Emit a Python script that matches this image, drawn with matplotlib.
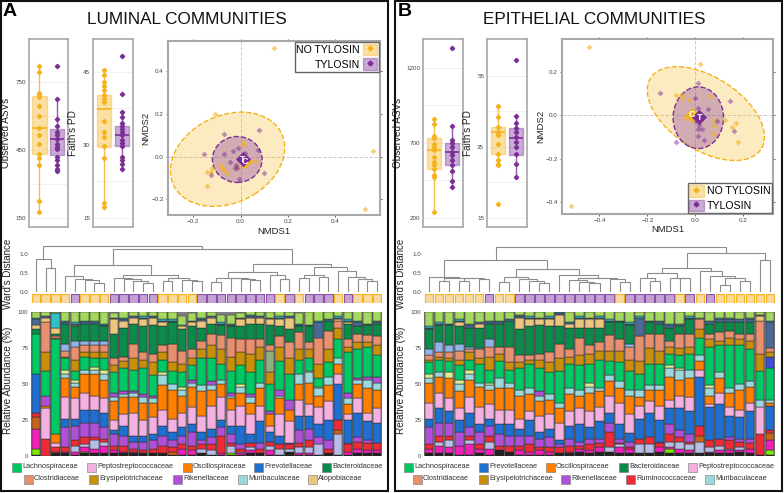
import matplotlib

matplotlib.use("Agg")
import matplotlib.pyplot as plt
import numpy as np
from matplotlib.legend_handler import HandlerTuple
from matplotlib.lines import Line2D
from matplotlib.patches import Ellipse, Patch, Rectangle

W, H = 784, 493
YEL = "#F5B21C"
PUR = "#7B2F96"
GREY = "#A8A8A8"

# alpha diversity, values per group
lum_asv_no = [817, 791, 700, 692, 682, 641, 599, 546, 517, 477, 433, 415, 383, 223, 176]
lum_asv_ty = [817, 672, 584, 556, 528, 513, 496, 477, 462, 452, 418, 403, 381, 367, 355]
lum_pd_no = [45.4, 44.3, 42.9, 42, 41.2, 40.2, 39.3, 38.8, 34.9, 32.6, 31.7, 29.8, 27.3, 18.1, 17.3]
lum_pd_ty = [48.2, 40.4, 36.7, 35.7, 34.5, 33.9, 33.3, 32.6, 32, 31, 30.3, 29.8, 27.5, 26.8, 26.1, 25.1]
epi_asv_no = [858, 829, 744, 731, 696, 673, 651, 607, 573, 551, 529, 484, 473, 240]
epi_asv_ty = [1336, 811, 722, 700, 673, 640, 618, 584, 551, 511, 444, 407]
epi_pd_no = [46.5, 43.5, 40.5, 39.2, 38.3, 35.9, 33.1, 31.2, 30.3, 30, 19]
epi_pd_ty = [59.6, 43.7, 41.8, 40.2, 39.2, 37.8, 36.4, 35, 32.9, 30.3, 26.4]

# box stats: q1, median, q3, whisker low, whisker high
lum_asv_box = [(433, 546, 685, 176, 817), (429, 496, 541, 355, 672)]
lum_pd_box = [(29.6, 37.3, 40.3, 17.3, 45.4), (29.8, 32, 33.9, 25.1, 36.7)]
epi_asv_box = [(529, 656, 731, 240, 858), (553, 640, 700, 407, 811)]
epi_pd_box = [(33, 39.3, 40.5, 30, 46.5), (32.7, 37.6, 40.3, 26.4, 43.7)]

# ordination points
lum_nmds_no = [(.14, .51), (.56, .026), (.525, -.248), (-.107, .2), (.01, .07), (.01, .055),
               (-.142, -.074), (-.125, -.075), (-.142, -.137), (-.12, -.052), (-.086, -.04),
               (-.08, -.055), (-.072, -.063), (-.058, -.078), (.062, -.019), (-.012, -.047)]
lum_nmds_ty = [(.076, .126), (-.069, .107), (-.153, .011), (-.125, -.089), (-.03, .024), (-.01, .042),
               (-.069, .013), (-.044, -.027), (.072, .031), (.1, -.078), (-.008, -.105), (-.02, -.039),
               (-.013, -.055), (-.022, -.052), (.006, -.016), (.02, .016)]
epi_nmds_no = [(-.444, .316), (-.52, -.419), (.018, .238), (-.079, .092), (-.056, .095), (-.056, .08),
               (-.028, .069), (.063, .087), (.08, -.023), (.08, -.05), (.125, -.023), (.153, -.054),
               (.169, -.035), (.178, -.124), (.08, -.084), (-.042, -.012)]
epi_nmds_ty = [(-.146, .101), (.01, .149), (-.003, .08), (.011, .034), (.053, .029), (.143, .064),
               (.09, -.028), (.16, -.074), (-.081, -.124), (.035, -.112), (.011, -.094), (.011, -.063),
               (.028, -.063), (.014, -.043), (-.024, -.008), (.003, -.028)]

# sample groups along the dendrogram
lum_groups = "NNNNTNNNTTTTTNNNNTTTTTTTTNTNTTTNTNNN"
epi_groups = "NNNNNNTNNTTTTTTTTTTNTTTTTNTNTNNNNNN"

# relative abundance, one list per taxon, one value per sample
lum_dark = [1, 0, 2, 2, 1, 2, 2, 2, 2, 2, 2, 2, 2, 2, 1, 1, 1, 2, 1, 1, 1, 1, 2, 2, 1, 1, 3, 1, 1, 1, 2, 1, 1, 2, 2, 2]
lum_lime = [4, 0, 0, 0, 0, 1, 0, 0, 0, 0, 0, 0, 0, 0, 0, 0, 0, 0, 0, 0, 1, 0, 0, 0, 0, 0, 0, 0, 0, 0, 0, 0, 0, 0, 0, 0]
lum_hot = [14, 0, 0, 1, 2, 3, 3, 5, 2, 1, 1, 0, 0, 0, 0, 4, 3, 0, 0, 1, 0, 1, 2, 0, 3, 0, 0, 1, 1, 0, 0, 0, 2, 3, 2, 2]
lum_lav = [0, 0, 0, 0, 4, 2, 6, 3, 0, 0, 0, 0, 0, 0, 0, 0, 0, 3, 3, 0, 5, 1, 2, 0, 3, 4, 2, 4, 4, 7, 0, 14, 0, 0, 0, 0]
lum_brown = [8, 0, 1, 0, 0, 0, 0, 0, 0, 0, 0, 0, 0, 0, 2, 0, 0, 0, 0, 0, 0, 0, 0, 0, 0, 0, 0, 0, 0, 0, 0, 3, 0, 0, 0, 0]
lum_red = [3, 12, 3, 3, 4, 5, 2, 2, 3, 4, 2, 2, 3, 5, 3, 3, 3, 3, 4, 12, 2, 2, 3, 3, 3, 3, 3, 3, 5, 0, 3, 7, 5, 5, 5, 5]
lum_rik = [0, 0, 0, 14, 10, 10, 10, 8, 8, 7, 5, 6, 6, 7, 5, 6, 10, 3, 5, 6, 6, 3, 0, 4, 0, 0, 0, 9, 8, 5, 6, 0, 1, 3, 2, 0]
lum_prev = [27, 0, 0, 6, 5, 9, 9, 10, 3, 7, 4, 4, 4, 7, 6, 6, 5, 6, 6, 5, 6, 13, 6, 15, 7, 6, 1, 10, 9, 9, 14, 25, 16, 17, 13, 14]
lum_pept = [0, 21, 3, 15, 14, 12, 10, 10, 7, 8, 16, 11, 12, 11, 9, 10, 12, 11, 16, 16, 11, 14, 14, 11, 4, 15, 15, 11, 8, 12, 13, 7, 4, 10, 6, 10]
lum_osci = [0, 2, 6, 13, 8, 13, 15, 13, 13, 12, 11, 12, 10, 17, 20, 12, 14, 17, 11, 9, 8, 9, 8, 12, 8, 11, 8, 11, 15, 8, 11, 7, 7, 10, 17, 13]
lum_muri = [0, 0, 0, 3, 3, 3, 3, 4, 3, 2, 3, 4, 3, 7, 4, 4, 3, 4, 3, 3, 2, 4, 4, 4, 0, 2, 0, 7, 7, 5, 6, 4, 4, 3, 6, 5]
lum_rik2 = [0, 7, 0, 0, 0, 0, 0, 0, 3, 2, 1, 2, 2, 0, 0, 0, 2, 0, 3, 0, 2, 0, 2, 0, 2, 4, 7, 0, 0, 0, 0, 0, 4, 1, 2, 4]
lum_ygr = [0, 0, 0, 3, 2, 0, 2, 3, 0, 0, 0, 0, 0, 2, 0, 2, 0, 0, 0, 0, 0, 2, 0, 0, 0, 0, 0, 0, 1, 1, 0, 0, 0, 0, 0, 0]
lum_lach = [28, 17, 66, 8, 6, 9, 6, 8, 14, 16, 15, 18, 14, 9, 9, 10, 10, 19, 16, 11, 15, 13, 15, 16, 19, 20, 18, 10, 9, 6, 10, 13, 28, 20, 21, 15]
lum_indigo = [0] * 36
lum_erys = [0, 13, 1, 1, 8, 3, 4, 4, 5, 5, 8, 6, 9, 5, 6, 6, 5, 6, 9, 10, 10, 9, 13, 9, 8, 10, 11, 7, 6, 10, 9, 8, 4, 5, 3, 7]
lum_sage = [0, 0, 0, 0, 0, 0, 0, 0, 0, 0, 0, 0, 0, 0, 0, 0, 0, 0, 0, 0, 0, 0, 0, 0, 15, 0, 0, 0, 0, 0, 0, 0, 0, 0, 0, 0]
lum_clos = [0, 21, 1, 4, 9, 5, 5, 5, 5, 3, 10, 5, 6, 5, 13, 9, 6, 6, 8, 10, 13, 9, 10, 5, 4, 7, 11, 12, 5, 18, 13, 5, 5, 6, 5, 6]
lum_peri = [0, 0, 0, 5, 4, 3, 3, 3, 0, 0, 0, 0, 0, 0, 0, 0, 0, 0, 0, 0, 0, 0, 0, 0, 0, 0, 0, 0, 0, 0, 0, 0, 0, 0, 0, 0]
lum_bact = [3, 0, 2, 14, 10, 12, 12, 10, 17, 20, 14, 18, 20, 13, 15, 15, 16, 9, 7, 7, 8, 9, 11, 11, 14, 7, 9, 4, 11, 0, 7, 0, 11, 5, 7, 9]
lum_atop = [3, 3, 4, 0, 1, 0, 0, 0, 10, 5, 4, 5, 5, 3, 0, 2, 3, 5, 4, 0, 0, 5, 4, 4, 4, 5, 8, 0, 0, 0, 0, 1, 1, 0, 0, 0]
lum_slate = [4, 1, 0, 1, 1, 1, 1, 1, 1, 1, 1, 1, 1, 1, 1, 0, 1, 1, 1, 1, 1, 1, 1, 1, 1, 1, 1, 1, 1, 11, 1, 1, 1, 3, 1, 1]
lum_cyan = [1, 0, 10, 1, 1, 1, 1, 1, 0, 1, 0, 1, 0, 1, 1, 1, 0, 1, 0, 1, 1, 0, 1, 0, 0, 1, 0, 1, 0, 1, 0, 1, 1, 1, 0, 1]
lum_top = [4, 3, 1, 6, 7, 6, 6, 8, 3, 5, 3, 4, 3, 5, 5, 6, 5, 5, 3, 5, 6, 3, 3, 3, 4, 4, 3, 7, 9, 7, 5, 4, 5, 7, 8, 7]

epi_dark = [2, 2, 2, 1, 1, 2, 1, 4, 3, 1, 1, 1, 1, 2, 2, 3, 2, 3, 3, 2, 2, 2, 2, 3, 2, 2, 2, 2, 2, 2, 2, 3, 2, 1, 1]
epi_lime = [0, 0, 0, 0, 0, 0, 0, 0, 0, 0, 0, 0, 0, 0, 0, 0, 0, 0, 0, 0, 0, 0, 0, 0, 3, 0, 0, 0, 0, 0, 0, 0, 0, 0, 3]
epi_hot = [3, 5, 4, 6, 7, 3, 4, 0, 0, 3, 2, 3, 2, 0, 1, 2, 2, 3, 0, 4, 3, 0, 0, 3, 1, 3, 2, 0, 1, 2, 2, 1, 3, 0, 7]
epi_lav = [0, 3, 5, 0, 3, 0, 5, 0, 0, 0, 0, 0, 0, 0, 0, 0, 0, 0, 3, 2, 0, 6, 6, 0, 4, 5, 4, 8, 3, 3, 1, 2, 0, 0, 0]
epi_brown = [0, 0, 0, 0, 0, 0, 0, 0, 0, 0, 0, 0, 0, 0, 0, 0, 0, 0, 0, 0, 0, 0, 0, 0, 0, 0, 0, 4, 0, 0, 0, 0, 0, 0, 5]
epi_red = [3, 4, 3, 0, 3, 3, 4, 3, 4, 3, 5, 2, 3, 4, 4, 2, 4, 3, 11, 1, 1, 4, 5, 3, 5, 3, 2, 7, 5, 5, 6, 4, 4, 14, 2]
epi_rik = [12, 9, 9, 10, 6, 9, 7, 8, 7, 7, 6, 6, 7, 2, 5, 3, 4, 3, 6, 3, 4, 0, 0, 1, 7, 5, 5, 0, 0, 0, 2, 2, 3, 0, 0]
epi_prev = [6, 10, 8, 8, 10, 5, 5, 7, 8, 5, 11, 5, 6, 3, 9, 12, 8, 12, 7, 10, 6, 14, 17, 15, 11, 15, 16, 34, 23, 24, 15, 15, 19, 0, 17]
epi_pept = [11, 11, 9, 8, 11, 12, 10, 10, 10, 7, 6, 11, 10, 12, 10, 11, 11, 10, 12, 15, 13, 9, 8, 10, 6, 9, 10, 5, 2, 8, 6, 5, 6, 19, 0]
epi_osci = [14, 11, 14, 12, 12, 14, 10, 15, 15, 16, 12, 10, 10, 10, 12, 9, 13, 11, 10, 10, 13, 6, 8, 11, 16, 11, 13, 6, 6, 10, 10, 14, 11, 0, 2]
epi_muri = [3, 3, 0, 5, 4, 3, 3, 7, 4, 4, 4, 4, 4, 4, 4, 4, 4, 2, 4, 5, 4, 5, 3, 3, 6, 7, 6, 4, 5, 4, 3, 4, 4, 5, 2]
epi_rik2 = [0, 0, 0, 0, 0, 0, 0, 0, 0, 0, 0, 3, 0, 0, 0, 0, 0, 0, 0, 0, 0, 0, 0, 0, 0, 0, 0, 0, 0, 0, 0, 0, 0, 0, 0]
epi_ygr = [3, 0, 4, 3, 3, 0, 2, 0, 0, 0, 0, 0, 0, 0, 0, 0, 3, 0, 0, 0, 0, 0, 0, 0, 2, 1, 0, 0, 2, 0, 0, 0, 0, 0, 0]
epi_lach = [8, 9, 8, 10, 7, 13, 9, 12, 9, 15, 17, 16, 15, 22, 17, 17, 13, 20, 10, 13, 13, 11, 15, 15, 8, 9, 11, 12, 27, 19, 30, 27, 22, 20, 22]
epi_indigo = [0, 0, 0, 0, 0, 0, 0, 0, 0, 0, 0, 0, 0, 0, 0, 0, 0, 0, 0, 0, 0, 0, 0, 0, 0, 0, 0, 0, 0, 0, 0, 0, 0, 0, 8]
epi_erys = [2, 2, 2, 4, 5, 4, 9, 5, 5, 4, 3, 6, 7, 9, 5, 7, 7, 6, 7, 8, 8, 9, 11, 9, 5, 5, 5, 6, 5, 3, 5, 4, 6, 12, 3]
epi_sage = [0] * 35
epi_clos = [3, 3, 4, 6, 2, 6, 7, 5, 11, 5, 3, 4, 7, 10, 5, 12, 6, 6, 11, 8, 9, 17, 10, 12, 4, 10, 9, 7, 4, 6, 5, 4, 5, 23, 3]
epi_peri = [4, 7, 5, 5, 2, 1, 5, 0, 0, 0, 0, 0, 0, 0, 0, 0, 0, 0, 0, 0, 2, 0, 0, 0, 0, 0, 0, 0, 0, 0, 0, 0, 0, 0, 0]
epi_bact = [14, 12, 14, 12, 13, 14, 11, 16, 18, 18, 20, 20, 18, 12, 15, 7, 12, 10, 9, 12, 13, 0, 8, 7, 9, 5, 10, 0, 7, 7, 6, 8, 8, 0, 0]
epi_atop = [0, 0, 0, 3, 0, 3, 0, 0, 0, 8, 5, 4, 5, 8, 3, 6, 6, 6, 0, 0, 0, 0, 0, 0, 0, 0, 0, 0, 0, 0, 0, 0, 0, 3, 0]
epi_slate = [1, 1, 1, 1, 2, 1, 1, 1, 1, 1, 1, 1, 1, 1, 1, 1, 1, 1, 1, 1, 1, 13, 1, 1, 2, 2, 1, 0, 2, 2, 2, 2, 2, 1, 18]
epi_cyan = [1, 1, 0, 1, 1, 0, 1, 1, 0, 1, 1, 0, 1, 1, 0, 1, 0, 1, 1, 0, 1, 1, 0, 1, 1, 0, 1, 1, 0, 1, 1, 0, 1, 0, 1]
epi_top = [10, 8, 8, 6, 9, 7, 7, 7, 5, 3, 4, 4, 4, 1, 7, 4, 4, 4, 6, 6, 8, 3, 6, 7, 9, 8, 4, 4, 6, 5, 5, 5, 5, 2, 6]

taxon_colors = ["#222222", "#7FE800", "#F020B8", "#B8BEE8", "#C8651B", "#EE2B36", "#B050D8", "#1F6FD0",
                "#F4B0E0", "#FF7F00", "#9AD8DC", "#B050D8", "#D8EE90", "#00C864", "#3F4FD8", "#C8900A",
                "#8FAF7F", "#E8906E", "#8FB4E8", "#0B8A4A", "#EDC67E", "#4A6A96", "#30C0C8", "#A5D85F"]
lum_stack = [lum_dark, lum_lime, lum_hot, lum_lav, lum_brown, lum_red, lum_rik, lum_prev, lum_pept, lum_osci,
             lum_muri, lum_rik2, lum_ygr, lum_lach, lum_indigo, lum_erys, lum_sage, lum_clos, lum_peri, lum_bact,
             lum_atop, lum_slate, lum_cyan, lum_top]
epi_stack = [epi_dark, epi_lime, epi_hot, epi_lav, epi_brown, epi_red, epi_rik, epi_prev, epi_pept, epi_osci,
             epi_muri, epi_rik2, epi_ygr, epi_lach, epi_indigo, epi_erys, epi_sage, epi_clos, epi_peri, epi_bact,
             epi_atop, epi_slate, epi_cyan, epi_top]

# dendrograms: (height, left, right), None is a sample
lum_tree = (1.21,
            (.87, None, (.64, None, None)),
            (1.12,
             (.71,
              (.41, None, (.34, None, (.31, None, (.25, None, None)))),
              (.46,
               (.38, None, (.33, None, (.30, None, (.24, None, None)))),
               (.37, (.29, None, None), (.31, None, (.28, None, None))))),
             (.73,
              (.52,
               (.38, (.27, None, None), (.36, None, (.34, None, (.31, None, None)))),
               (.45, None, (.33, None, None))),
              (.67,
               (.46, (.36, None, None), (.39, None, None)),
               (.55, None, (.40, None, (.33, None, (.29, None, None))))))))
epi_tree = (1.18,
            (.85,
             (.40, None, (.38, (.30, None, None), (.37, (.28, None, None), (.33, None, None)))),
             (.60,
              (.40, (.26, None, None), (.33, None, (.29, None, (.24, None, None)))),
              (.46, None,
               (.36,
                (.31, None, (.27, None, (.25, None, None))),
                (.33, None, (.27, None, None)))))),
            (1.03,
             (.64,
              (.49, (.37, None, (.30, None, None)), (.38, None, (.36, None, None))),
              (.54, None, (.42, None, (.36, (.18, None, None), (.29, None, None))))),
             (.85, None, None)))

lum_legend = ["Lachnospiraceae", "Peptostreptococcaceae", "Oscillospiraceae", "Prevotellaceae", "Bacteroidaceae",
              "Clostridiaceae", "Erysipelotrichaceae", "Rikenellaceae", "Muribaculaceae", "Atopobiaceae"]
lum_legend_colors = ["#00C864", "#F4B0E0", "#FF7F00", "#1F6FD0", "#0B8A4A",
                     "#E8906E", "#C8900A", "#B050D8", "#9AD8DC", "#EDC67E"]
epi_legend = ["Lachnospiraceae", "Prevotellaceae", "Oscillospiraceae", "Bacteroidaceae", "Peptostreptococcaceae",
              "Clostridiaceae", "Erysipelotrichaceae", "Rikenellaceae", "Ruminococcaceae", "Muribaculaceae"]
epi_legend_colors = ["#00C864", "#1F6FD0", "#FF7F00", "#0B8A4A", "#F4B0E0",
                     "#E8906E", "#C8900A", "#B050D8", "#EE2B36", "#9AD8DC"]


def px_axes(fig, x0, y0, x1, y1):
    return fig.add_axes([x0 / W, 1 - y1 / H, (x1 - x0) / W, (y1 - y0) / H])


def draw_alpha(ax, no_vals, ty_vals, boxes, ylim, ticks, grid, label, label_x):
    stats = [{"q1": b[0], "med": b[1], "q3": b[2], "whislo": b[3], "whishi": b[4], "fliers": []} for b in boxes]
    for pos, stat, vals, color in zip([1, 2], stats, [no_vals, ty_vals], [YEL, PUR]):
        ax.bxp([stat], positions=[pos], widths=0.8, patch_artist=True, showcaps=False,
               boxprops={"facecolor": color, "alpha": 0.4, "edgecolor": color, "linewidth": 1},
               medianprops={"color": color, "linewidth": 1.2},
               whiskerprops={"color": color, "linewidth": 1, "alpha": 0.8})
        ax.plot([pos] * len(vals), vals, ls="none", marker="D", ms=2.2, color=color, zorder=3)
    ax.set_xlim(0.407, 2.61)
    ax.set_ylim(*ylim)
    ax.set_xticks([])
    ax.set_yticks(ticks)
    for value in grid:
        ax.axhline(value, color="#EEEEEE", lw=0.6, zorder=0)
    ax.tick_params(axis="y", labelsize=4.5, length=0, colors="#444444", pad=2)
    ax.grid(axis="y", color="#EEEEEE", lw=0.6)
    ax.set_axisbelow(True)
    for spine in ax.spines.values():
        spine.set_color(GREY)
        spine.set_linewidth(1.2)
    ax.set_ylabel(label, fontsize=7.2, color="#222222")
    ax.yaxis.set_label_coords(label_x, 0.5)


def draw_nmds(ax, no_pts, ty_pts, no_ell, ty_ell, no_center, ty_center, xlim, ylim, xticks, yticks, legend_loc, label_x, label_y):
    ax.axhline(0, color="#CCCCCC", lw=0.7, ls="--", zorder=1)
    ax.axvline(0, color="#CCCCCC", lw=0.7, ls="--", zorder=1)
    ax.add_patch(Ellipse(no_ell[:2], no_ell[2], no_ell[3], angle=no_ell[4], facecolor=YEL, alpha=0.27, zorder=2))
    ax.add_patch(Ellipse(no_ell[:2], no_ell[2], no_ell[3], angle=no_ell[4], fill=False, edgecolor=YEL,
                         ls="--", lw=1, zorder=2))
    ax.add_patch(Ellipse(ty_ell[:2], ty_ell[2], ty_ell[3], angle=ty_ell[4], facecolor=PUR, alpha=0.33, zorder=3))
    ax.add_patch(Ellipse(ty_ell[:2], ty_ell[2], ty_ell[3], angle=ty_ell[4], fill=False, edgecolor=PUR,
                         ls="--", lw=1, zorder=3))
    ax.scatter(*zip(*no_pts), marker="D", s=9, color=YEL, alpha=0.6, lw=0, zorder=4)
    ax.scatter(*zip(*ty_pts), marker="D", s=9, color=PUR, alpha=0.5, lw=0, zorder=4)
    ax.scatter(*no_center, marker="D", s=60, color=YEL, lw=0, zorder=5)
    ax.scatter(*ty_center, marker="D", s=60, color=PUR, lw=0, zorder=6)
    ax.text(*no_center, "C", color="white", fontsize=6.5, fontweight="bold", ha="center", va="center", zorder=7)
    ax.text(*ty_center, "T", color="white", fontsize=6.5, fontweight="bold", ha="center", va="center", zorder=7)
    ax.set_xlim(*xlim)
    ax.set_ylim(*ylim)
    ax.set_xticks(xticks)
    ax.set_yticks(yticks)
    ax.tick_params(labelsize=4.5, length=1.5, width=0.6, colors="#444444", top=True, right=True, pad=1.5)
    for spine in ax.spines.values():
        spine.set_color(GREY)
        spine.set_linewidth(1.5)
    ax.set_xlabel("NMDS1", fontsize=6.8, color="#222222")
    ax.set_ylabel("NMDS2", fontsize=6.8, color="#222222")
    ax.xaxis.set_label_coords(0.5, label_y)
    ax.yaxis.set_label_coords(label_x, 0.5)
    handles = []
    for color in [YEL, PUR]:
        handles.append((Patch(facecolor=color, edgecolor=color, alpha=0.4),
                        Line2D([], [], ls="none", marker="D", ms=2.5, color=color)))
    legend = ax.legend(handles, ["NO TYLOSIN", "TYLOSIN"], loc=legend_loc, fontsize=7.6, fancybox=False,
                       markerfirst=legend_loc != "upper right", handlelength=1.35, handleheight=1.35,
                       handletextpad=0.3, labelspacing=0.25, borderpad=0.15, borderaxespad=0.1,
                       edgecolor="#666666", framealpha=1, handler_map={tuple: HandlerTuple(ndivide=1, pad=0)})
    legend.get_frame().set_linewidth(1)
    legend.set_zorder(10)


def draw_tree(ax, node, next_leaf):
    if node is None:
        pos = next_leaf[0]
        next_leaf[0] += 1
        return pos, 0
    height, left, right = node
    xl, hl = draw_tree(ax, left, next_leaf)
    xr, hr = draw_tree(ax, right, next_leaf)
    ax.plot([xl, xl, xr, xr], [hl, height, height, hr], color="#8C8C8C", lw=0.8, solid_joinstyle="miter")
    return (xl + xr) / 2, height


def draw_community(fig, x0, x1, tree, groups, stack, legend_names, legend_colors, row_x, label_x):
    n = len(groups)
    xs = np.arange(n)

    tree_ax = px_axes(fig, x0, 235, x1, 292)
    draw_tree(tree_ax, tree, [0])
    tree_ax.set_xlim(-0.5, n - 0.5)
    tree_ax.set_ylim(0, 1.5)
    tree_ax.set_xticks([])
    tree_ax.set_yticks([0, 0.5, 1.0], ["0.0", "0.5", "1.0"])
    tree_ax.tick_params(axis="y", labelsize=4.5, length=0, colors="#444444", pad=2)
    tree_ax.spines[:].set_visible(False)
    tree_ax.patch.set_alpha(0)

    strip_ax = px_axes(fig, x0, 294, x1, 303)
    strip_ax.bar(xs, [1] * n, width=0.85,
                 color=["#F9D9A0" if g == "N" else "#C4A3D4" for g in groups],
                 edgecolor=[YEL if g == "N" else "#8B4FA8" for g in groups], linewidth=0.8)
    strip_ax.set_xlim(-0.5, n - 0.5)
    strip_ax.set_ylim(0, 1)
    strip_ax.axis("off")

    bar_ax = px_axes(fig, x0, 312, x1, 456)
    bar_ax.bar(xs, [100] * n, width=1.0, color="#808080", linewidth=0)
    bottom = np.zeros(n)
    for values, color in zip(stack, taxon_colors):
        values = np.array(values, dtype=float)
        bar_ax.bar(xs, values, bottom=bottom, width=0.88, color=color, edgecolor="#2A2A2A",
                   linewidth=[0.35 if v > 0 else 0 for v in values])
        bottom += values
    bar_ax.set_xlim(-0.5, n - 0.5)
    bar_ax.set_ylim(0, 100)
    bar_ax.set_xticks([])
    bar_ax.set_yticks([0, 25, 50, 75, 100])
    bar_ax.tick_params(axis="y", labelsize=4.5, length=0, colors="#444444", pad=2)
    bar_ax.spines[:].set_visible(False)

    fig.text(label_x / W, 1 - 274 / H, "Ward's Distance", rotation=90, fontsize=7, ha="center", va="center", color="#222222")
    fig.text(label_x / W, 1 - 380 / H, "Relative Abundance (%)", rotation=90, fontsize=7.2, ha="center", va="center", color="#222222")

    for i, (name, color, sx) in enumerate(zip(legend_names, legend_colors, row_x)):
        y = 467 if i < 5 else 479
        fig.add_artist(Rectangle((sx / W, 1 - (y + 4.5) / H), 9 / W, 9 / H, transform=fig.transFigure,
                                 facecolor=color, edgecolor="#777777", linewidth=0.4))
        fig.text((sx + 10) / W, 1 - y / H, name, fontsize=5.3, ha="left", va="center", color="#333333")


def main() -> None:
    plt.rcParams["font.family"] = ["Liberation Sans", "DejaVu Sans"]
    fig = plt.figure(figsize=(W / 100, H / 100), dpi=100)

    for x0, x1 in [(1, 388), (395, 782)]:
        fig.add_artist(Rectangle((x0 / W, 1 - 491 / H), (x1 - x0) / W, 490 / H, transform=fig.transFigure,
                                 facecolor="none", edgecolor="#111111", linewidth=1.5, zorder=-1))

    fig.text(187 / W, 1 - 20 / H, "LUMINAL COMMUNITIES", fontsize=12.3, ha="center", va="center", color="#111111")
    fig.text(594 / W, 1 - 20 / H, "EPITHELIAL COMMUNITIES", fontsize=12.3, ha="center", va="center", color="#111111")
    fig.text(3 / W, 1 - 12 / H, "A", fontsize=14, fontweight="bold", ha="left", va="center")
    fig.text(398 / W, 1 - 11 / H, "B", fontsize=14, fontweight="bold", ha="left", va="center")

    draw_alpha(px_axes(fig, 29, 39, 68, 227), lum_asv_no, lum_asv_ty, lum_asv_box,
               (110, 938), [150, 450, 750], [300, 600], "Observed ASVs", -0.46)
    draw_alpha(px_axes(fig, 93, 39, 133, 227), lum_pd_no, lum_pd_ty, lum_pd_box,
               (13.15, 51.7), [15, 30, 45], [22.5, 37.5], "Faith's PD", -0.375)
    draw_nmds(px_axes(fig, 168, 41, 380, 215), lum_nmds_no, lum_nmds_ty,
              (-.055, -.013, .52, .40, 35), (-.014, -.014, .21, .216, 0), (.02, -.023), (.01, -.013),
              (-.307, .59), (-.275, .543), [-.2, 0, .2, .4], [-.2, 0, .2, .4], "upper right", -0.085, -0.069)

    draw_alpha(px_axes(fig, 423, 39, 463, 227), epi_asv_no, epi_asv_ty, epi_asv_box,
               (140, 1393), [200, 700, 1200], [450, 950], "Observed ASVs", -0.5)
    draw_alpha(px_axes(fig, 487, 39, 527, 227), epi_pd_no, epi_pd_ty, epi_pd_box,
               (12.46, 65.4), [15, 35, 55], [25, 45], "Faith's PD", -0.35)
    draw_nmds(px_axes(fig, 562, 39, 773, 214), epi_nmds_no, epi_nmds_ty,
              (.044, .008, .566, .324, -38), (.0125, -.011, .21, .284, 0), (-.014, .003), (.017, -.008),
              (-.556, .324), (-.454, .351), [-.4, -.2, 0, .2], [-.4, -.2, 0, .2], "lower right", -0.08, -0.063)

    lum_row_x = [12, 87, 183, 254, 322, 24, 89, 173, 238, 308]
    epi_row_x = [404, 479, 546, 619, 688, 413, 479, 561, 626, 705]
    draw_community(fig, 31, 382, lum_tree, lum_groups, lum_stack, lum_legend, lum_legend_colors, lum_row_x, 8)
    draw_community(fig, 424, 775, epi_tree, epi_groups, epi_stack, epi_legend, epi_legend_colors, epi_row_x, 401)

    fig.savefig("out.png", dpi=100)
    plt.close(fig)


if __name__ == "__main__":
    main()
